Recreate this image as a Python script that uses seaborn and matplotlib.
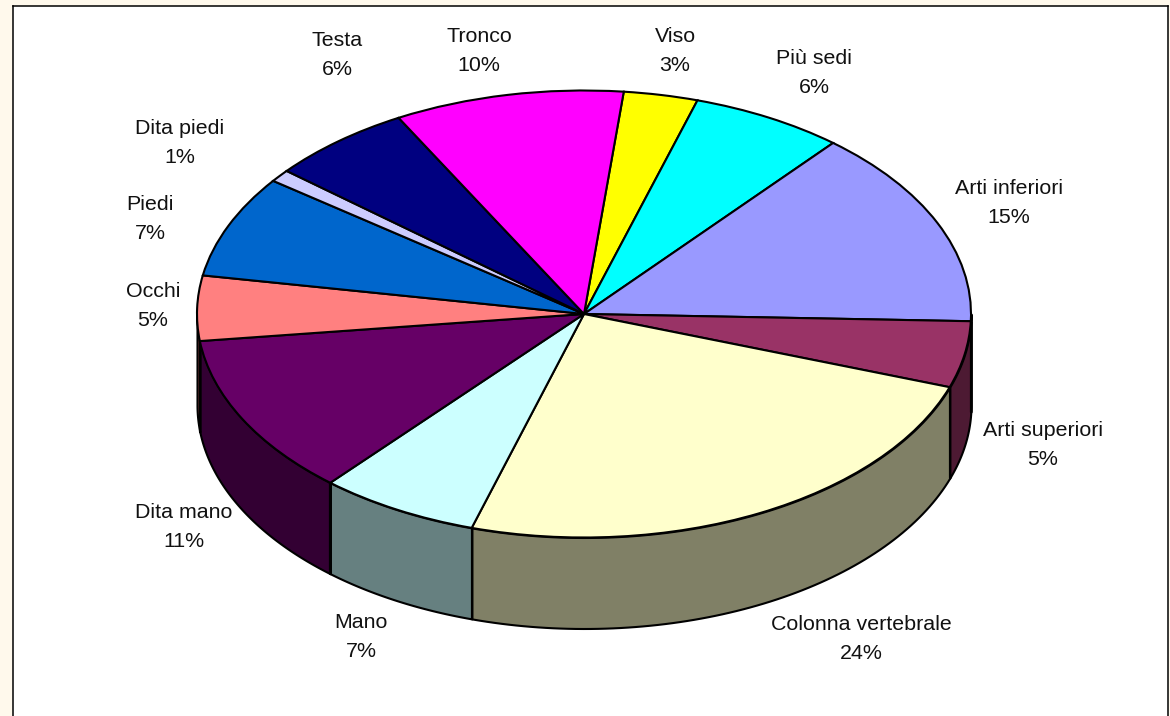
import numpy as np
import matplotlib
matplotlib.use('Agg')
import matplotlib.pyplot as plt
import seaborn as sns

# Slices, clockwise starting from Viso
categories = ['Viso', 'Più sedi', 'Arti inferiori', 'Arti superiori', 'Colonna vertebrale', 'Mano',
              'Dita mano', 'Occhi', 'Piedi', 'Dita piedi', 'Testa', 'Tronco']
shares = [3.1, 6.4, 14.4, 4.8, 24.4, 6.7, 11.7, 4.7, 7.4, 0.9, 6.0, 9.6]
printed_pct = [3, 6, 15, 5, 24, 7, 11, 5, 7, 1, 6, 10]
top_colors = ['#FFFF00', '#00FFFF', '#9999FF', '#993366', '#FFFFCC', '#CCFFFF',
              '#660066', '#FF8080', '#0066CC', '#CCCCFF', '#000080', '#FF00FF']
label_x = [675, 814, 1009, 1043, 861, 361, 184, 153, 150, 180, 337, 479]
label_y = [51, 73, 203, 445, 639, 637, 527, 306, 219, 143, 55, 51]

W, H = 1170, 716
DEPTH = 91 / 223.5  # wall height, in radii of the top ellipse

sns.set_theme(style='white')
plt.rcParams['font.family'] = ['Liberation Sans', 'DejaVu Sans']

fig = plt.figure(figsize=(W / 100, H / 100), dpi=100, facecolor='#FFF9EC')

# white panel with the black frame
bg = fig.add_axes([12.5 / W, -5 / H, (1168 - 12.5) / W, (H - 5.5 + 5) / H], facecolor='white')
bg.set_xticks([])
bg.set_yticks([])
for s in bg.spines.values():
    s.set_color('black')
    s.set_linewidth(1.1)

# pie axes: x -1..1 spans 197..971 px, y -1..1 spans 537..90 px
ax = fig.add_axes([197 / W, (H - 537.5) / H, 774 / W, 447 / H])
palette = sns.color_palette(top_colors)
wedges, _ = ax.pie(shares, colors=palette, startangle=84.1, counterclock=False, radius=1,
                   wedgeprops={'edgecolor': 'black', 'linewidth': 1.5, 'zorder': 3})
ax.set_aspect('auto')
ax.set_xlim(-1, 1)
ax.set_ylim(-1, 1)
ax.patch.set_alpha(0)

# side wall: the lower part of each wedge pushed down by DEPTH, in half-tone colours
for w, c in zip(wedges, palette):
    lo, hi = w.theta1 % 360, w.theta2 % 360
    if hi <= lo:
        hi += 360
    for a, b in [(lo, hi), (lo - 360, hi - 360), (lo + 360, hi + 360)]:
        a, b = max(a, 180), min(b, 360)
        if b <= a:
            continue
        t = np.radians(np.linspace(a, b, 80))
        x, y = np.cos(t), np.sin(t)
        dark = tuple(v * 0.5 for v in c)
        ax.fill_between(x, y - DEPTH, y, color=dark, edgecolor='black', linewidth=1.5,
                        zorder=2, clip_on=False)
        for i in (0, -1):
            # vertical seams at slice boundaries only, not at the silhouette edge
            if abs(y[i]) > 1e-6:
                ax.plot([x[i], x[i]], [y[i], y[i] - DEPTH], color='black', lw=1.5,
                        zorder=2.5, clip_on=False)

for name, pct, lx, ly in zip(categories, printed_pct, label_x, label_y):
    fig.text(lx / W, 1 - ly / H, f'{name}\n{pct}%', ha='center', va='center', fontsize=15.4,
             color='#111111', linespacing=1.72)

fig.savefig('out.png', dpi=100, facecolor=fig.get_facecolor())
